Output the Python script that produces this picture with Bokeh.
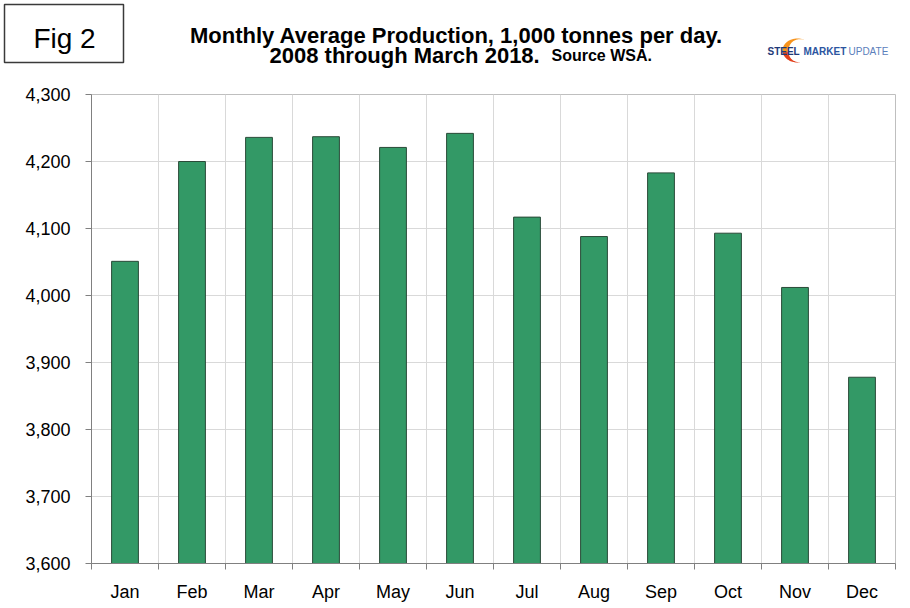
import numpy as np
from bokeh.plotting import figure
from bokeh.layouts import column
from bokeh.models import (Label, BoxAnnotation, FixedTicker,
                          NumeralTickFormatter, Range1d)
from bokeh.embed import file_html
from bokeh.resources import INLINE

months = ["Jan", "Feb", "Mar", "Apr", "May", "Jun", "Jul", "Aug", "Sep", "Oct", "Nov", "Dec"]
production = [4051, 4200, 4236, 4237, 4221, 4242, 4117, 4088, 4183, 4093, 4012, 3878]
y_ticks = [3600, 3700, 3800, 3900, 4000, 4100, 4200, 4300]

W = 903
HEAD_H = 80

# ---------------- header (title, figure tag, logo) ----------------
h = figure(width=W, height=HEAD_H, output_backend="svg", toolbar_location=None,
           x_range=Range1d(0, W), y_range=Range1d(HEAD_H, 0),
           x_axis_type=None, y_axis_type=None,
           min_border_left=0, min_border_right=0, min_border_top=0, min_border_bottom=0)
h.frame_align = False
h.grid.visible = False
h.outline_line_color = None
h.background_fill_color = "white"
h.border_fill_color = "white"

h.add_layout(BoxAnnotation(left=4, right=123, top=4, bottom=62,
                           fill_color="white", fill_alpha=1,
                           line_color="#3a3a3a", line_alpha=1, line_width=1.5))
h.add_layout(Label(x=64, y=38, text="Fig 2",
                   text_font="Liberation Sans", text_font_size="28px",
                   text_align="center", text_baseline="alphabetic", text_color="black"))

h.add_layout(Label(x=456, y=35,
                   text="Monthly Average Production, 1,000 tonnes per day.",
                   text_font="Liberation Sans", text_font_style="bold", text_font_size="22px",
                   text_align="center", text_baseline="alphabetic", text_color="black"))
h.add_layout(Label(x=269, y=55, text="2008 through March 2018.",
                   text_font="Liberation Sans", text_font_style="bold", text_font_size="22px",
                   text_align="left", text_baseline="alphabetic", text_color="black"))
h.add_layout(Label(x=551, y=55, text="Source WSA.",
                   text_font="Liberation Sans", text_font_style="bold", text_font_size="16px",
                   text_align="left", text_baseline="alphabetic", text_color="black"))

# logo swoosh (decoration)
cx, cy, rx, ry = 797, 50, 15, 12
def crescent(a0, a1):
    th = np.radians(np.linspace(a0, a1, 40))
    ox = cx + rx * np.cos(th)
    oy = cy - ry * np.sin(th)
    w = np.sin(np.pi * (th - np.radians(60)) / np.radians(225))
    ix = cx + (rx - 4 * w) * np.cos(th) + 2 * w
    iy = cy - (ry - 2 * w) * np.sin(th)
    return list(ox) + list(ix[::-1]), list(oy) + list(iy[::-1])
ax, ay = crescent(60, 190)
h.patch(ax, ay, fill_color="#f7941d", line_color=None)
bx, by = crescent(188, 285)
h.patch(bx, by, fill_color="#e2401c", line_color=None)

h.add_layout(Label(x=767, y=51, text="STEEL",
                   text_font="Liberation Sans", text_font_style="bold", text_font_size="10px",
                   text_baseline="alphabetic", text_color="#1f3a78"))
h.add_layout(Label(x=803, y=51, text="MARKET",
                   text_font="Liberation Sans", text_font_style="bold", text_font_size="10px",
                   text_baseline="alphabetic", text_color="#2c55a0"))
h.add_layout(Label(x=848, y=51, text="UPDATE",
                   text_font="Liberation Sans", text_font_size="10px",
                   text_baseline="alphabetic", text_color="#5c80bb"))

# ---------------- chart ----------------
FL, FR, FT, FB = 91, 8, 14, 40
FRAME_H = 470
xs = list(range(1, len(months) + 1))
bounds = [i + 0.5 for i in range(0, len(months) + 1)]

p = figure(width=W, height=FT + FRAME_H + FB, output_backend="svg", toolbar_location=None,
           x_range=Range1d(0.5, len(months) + 0.5), y_range=Range1d(3600, 4300),
           min_border_left=FL, min_border_right=FR, min_border_top=FT, min_border_bottom=FB)
p.frame_align = False

p.vbar(x=xs, top=production, bottom=3600, width=0.4,
       fill_color="#339966", line_color="#2a4a38", line_width=1)

p.outline_line_color = "#bfbfbf"
p.background_fill_color = "white"
p.border_fill_color = "white"

p.xaxis.ticker = FixedTicker(ticks=xs, minor_ticks=bounds)
p.xaxis.major_label_overrides = {i: m for i, m in zip(xs, months)}
p.xaxis.major_tick_line_color = None
p.xaxis.major_tick_out = 6
p.xaxis.minor_tick_in = 0
p.xaxis.minor_tick_out = 6
p.xaxis.minor_tick_line_color = "#808080"
p.xaxis.axis_line_color = "#808080"
p.xaxis.major_label_text_font = "Liberation Sans"
p.xaxis.major_label_text_font_size = "18px"
p.xaxis.major_label_text_color = "black"
p.xaxis.major_label_standoff = 12
p.xgrid.ticker = FixedTicker(ticks=bounds)
p.xgrid.grid_line_color = "#d9d9d9"

p.yaxis.ticker = FixedTicker(ticks=y_ticks)
p.yaxis.formatter = NumeralTickFormatter(format="0,0")
p.yaxis.major_tick_in = 0
p.yaxis.major_tick_out = 6
p.yaxis.minor_tick_line_color = None
p.yaxis.major_tick_line_color = "#808080"
p.yaxis.axis_line_color = "#808080"
p.yaxis.major_label_text_font = "Liberation Sans"
p.yaxis.major_label_text_font_size = "18px"
p.yaxis.major_label_text_color = "black"
p.yaxis.major_label_standoff = 15
p.ygrid.grid_line_color = "#d9d9d9"

layout = column(h, p, spacing=0)
open("out.html", "w").write(file_html(layout, INLINE))
